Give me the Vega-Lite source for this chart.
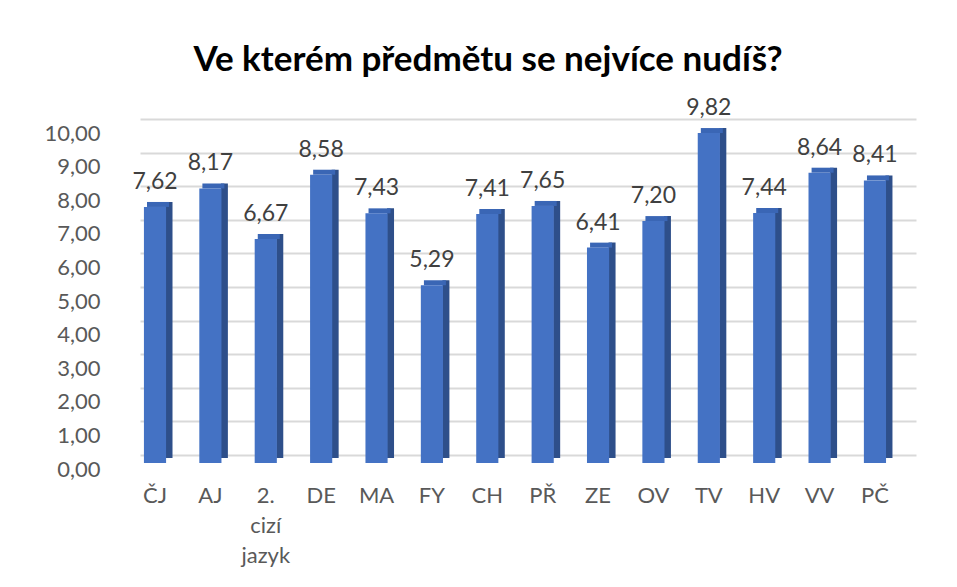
{
  "$schema": "https://vega.github.io/schema/vega-lite/v6.json",
  "autosize": "none",
  "width": 776,
  "height": 336,
  "padding": {"left": 140, "top": 127, "right": 41, "bottom": 124},
  "background": "white",
  "title": {
    "text": "Ve kterém předmětu se nejvíce nudíš?",
    "font": "Lato",
    "fontSize": 35,
    "fontWeight": "bold",
    "color": "#000000",
    "anchor": "middle",
    "frame": "group",
    "dx": -40,
    "offset": 19
  },
  "data": {
    "values": [
      {"predmet": "ČJ", "hodnota": 7.62},
      {"predmet": "AJ", "hodnota": 8.17},
      {"predmet": "2. cizí jazyk", "hodnota": 6.67},
      {"predmet": "DE", "hodnota": 8.58},
      {"predmet": "MA", "hodnota": 7.43},
      {"predmet": "FY", "hodnota": 5.29},
      {"predmet": "CH", "hodnota": 7.41},
      {"predmet": "PŘ", "hodnota": 7.65},
      {"predmet": "ZE", "hodnota": 6.41},
      {"predmet": "OV", "hodnota": 7.20},
      {"predmet": "TV", "hodnota": 9.82},
      {"predmet": "HV", "hodnota": 7.44},
      {"predmet": "VV", "hodnota": 8.64},
      {"predmet": "PČ", "hodnota": 8.41}
    ]
  },
  "encoding": {
    "x": {
      "field": "predmet",
      "type": "nominal",
      "sort": null,
      "scale": {"paddingInner": 0.6, "paddingOuter": 0.306, "align": 0.116},
      "axis": {
        "title": null,
        "domain": false,
        "ticks": false,
        "labelAngle": 0,
        "labelFont": "Lato",
        "labelFontSize": 22,
        "labelColor": "#595959",
        "labelPadding": 22,
        "labelBaseline": "top",
        "labelLineHeight": 30,
        "labelOverlap": false,
        "labelExpr": "datum.label == '2. cizí jazyk' ? ['2.', 'cizí', 'jazyk'] : datum.label"
      }
    },
    "y": {
      "field": "hodnota",
      "type": "quantitative",
      "scale": {"domain": [0, 10], "nice": false},
      "axis": {
        "title": null,
        "domain": false,
        "ticks": false,
        "values": [0, 1, 2, 3, 4, 5, 6, 7, 8, 9, 10],
        "format": ".2f",
        "labelFont": "Lato",
        "labelFontSize": 22,
        "labelColor": "#595959",
        "labelPadding": 40,
        "labelOverlap": false,
        "labelBound": false,
        "tickOffset": -8,
        "labelOffset": 14,
        "grid": true,
        "gridColor": "#d9d9d9",
        "gridWidth": 2
      }
    }
  },
  "layer": [
    {
      "mark": {"type": "bar", "color": "#2E4F8A", "width": 7, "xOffset": 14, "yOffset": -5, "y2Offset": -3},
      "encoding": {}
    },
    {
      "mark": {"type": "bar", "color": "#3A66B5", "width": 22, "xOffset": 3, "yOffset": -5, "y2Offset": 0},
      "encoding": {"y2": {"field": "hodnota"}}
    },
    {
      "mark": {"type": "bar", "color": "#4472C4"},
      "encoding": {}
    },
    {
      "mark": {"type": "text", "font": "Lato", "fontSize": 23, "color": "#404040", "baseline": "alphabetic", "dy": -18},
      "encoding": {"text": {"field": "hodnota", "type": "quantitative", "format": ".2f"}}
    }
  ],
  "config": {
    "view": {"stroke": null},
    "locale": {"number": {"decimal": ",", "thousands": " ", "grouping": [3], "currency": ["", " Kč"]}}
  }
}
